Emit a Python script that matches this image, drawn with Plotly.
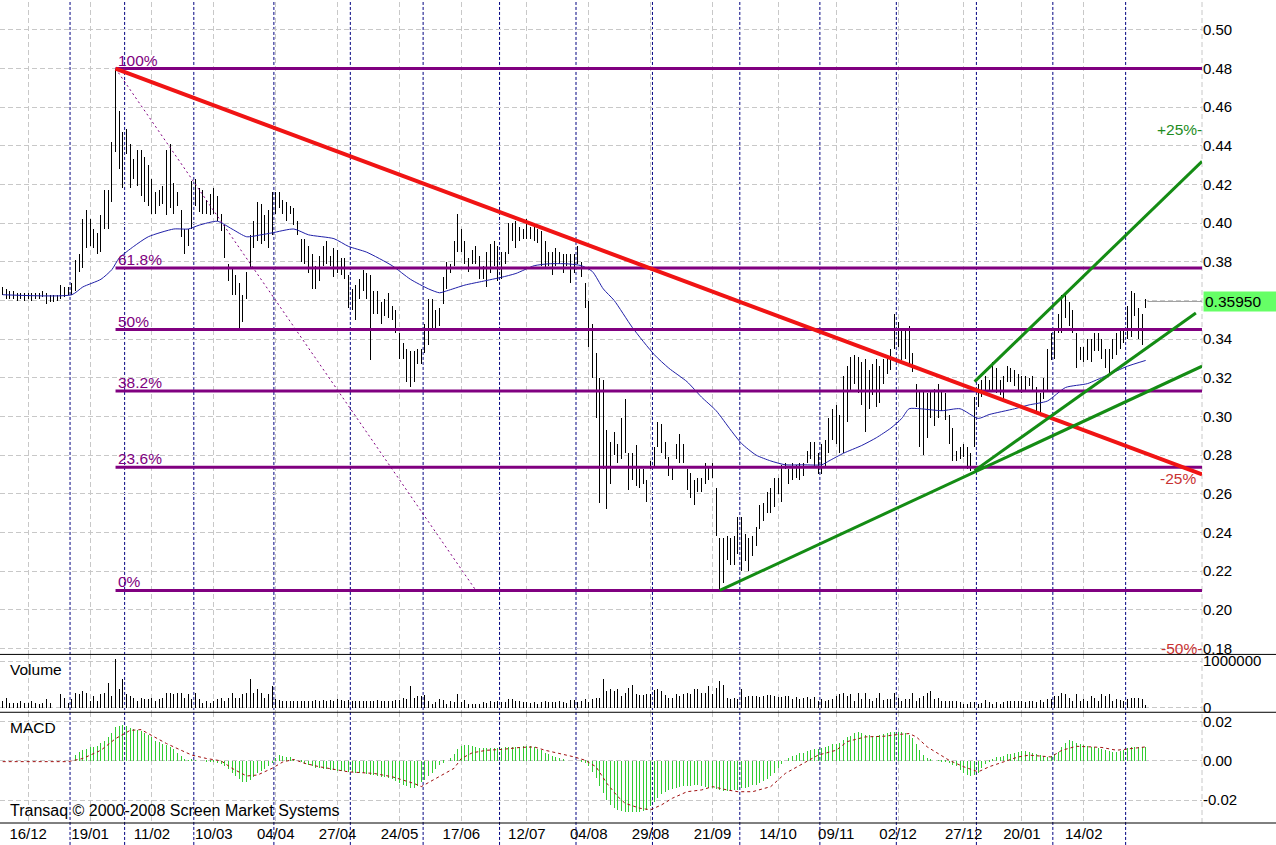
import plotly.graph_objects as go

# ---------------- DATA ----------------
high = [
 .367,.366,.365,.365,.364,.364,.364,.364,.364,.364,
 .364,.365,.364,.363,.363,.363,.368,.367,.367,.369,
 .381,.384,.402,.407,.402,.397,.395,.404,.417,.417,
 .442,.480,.458,.447,.449,.441,.433,.438,.438,.434,
 .430,.423,.416,.417,.419,.438,.441,.421,.416,.407,
 .397,.397,.422,.423,.418,.417,.412,.415,.418,.414,
 .405,.399,.379,.377,.373,.369,.363,.375,.394,.401,
 .411,.410,.404,.407,.416,.416,.416,.412,.411,.409,
 .408,.401,.392,.392,.388,.384,.378,.383,.388,.391,
 .383,.387,.386,.382,.382,.373,.366,.368,.371,.376,
 .374,.373,.365,.365,.359,.361,.364,.357,.355,.343,
 .338,.335,.334,.334,.335,.335,.348,.361,.361,.355,
 .356,.372,.380,.379,.391,.405,.397,.391,.382,.386,
 .388,.383,.378,.385,.389,.391,.388,.385,.385,.400,
 .400,.401,.398,.397,.402,.398,.398,.397,.396,.391,
 .385,.385,.387,.385,.384,.384,.384,.384,.388,.380,
 .369,.360,.348,.333,.320,.319,.293,.287,.292,.286,
 .299,.309,.281,.281,.285,.273,.273,.267,.277,.284,
 .297,.296,.287,.279,.274,.286,.291,.286,.273,.271,
 .267,.268,.268,.276,.274,.276,.263,.237,.237,.238,
 .237,.238,.248,.248,.239,.237,.238,.243,.254,.255,
 .261,.263,.268,.268,.275,.276,.273,.276,.275,.276,
 .276,.282,.287,.287,.281,.286,.288,.299,.304,.306,
 .301,.321,.326,.331,.332,.331,.328,.330,.324,.327,
 .330,.326,.330,.332,.335,.353,.349,.345,.344,.347,
 .333,.317,.313,.313,.312,.313,.314,.317,.313,.312,
 .301,.294,.282,.284,.286,.284,.281,.310,.317,.319,
 .321,.319,.328,.325,.319,.321,.326,.325,.324,.322,
 .321,.321,.320,.321,.315,.312,.320,.335,.343,.345,
 .353,.363,.363,.359,.355,.343,.336,.336,.340,.340,
 .343,.343,.340,.335,.335,.340,.343,.345,.346,.357,
 .365,.364,.356,.353,.361]

low = [
 .363,.361,.361,.361,.360,.361,.360,.361,.360,.361,
 .361,.362,.358,.359,.359,.360,.361,.362,.363,.363,
 .365,.375,.377,.387,.388,.387,.384,.385,.397,.397,
 .411,.437,.428,.418,.436,.418,.423,.419,.414,.411,
 .409,.405,.405,.409,.410,.404,.408,.405,.409,.393,
 .384,.388,.397,.409,.406,.405,.405,.404,.405,.401,
 .396,.382,.370,.363,.363,.346,.349,.361,.377,.387,
 .391,.389,.391,.387,.394,.405,.408,.405,.401,.405,
 .399,.394,.380,.379,.374,.366,.366,.370,.378,.379,
 .378,.372,.374,.373,.371,.356,.355,.350,.361,.365,
 .361,.329,.353,.353,.348,.352,.351,.350,.343,.330,
 .330,.318,.315,.318,.327,.327,.333,.337,.344,.344,
 .347,.358,.366,.374,.378,.385,.385,.379,.375,.379,
 .379,.371,.371,.367,.374,.378,.370,.371,.379,.384,
 .391,.387,.391,.392,.392,.392,.391,.390,.378,.377,
 .378,.373,.378,.379,.374,.378,.369,.374,.379,.372,
 .356,.336,.320,.299,.255,.273,.252,.265,.280,.276,
 .278,.281,.262,.267,.264,.263,.265,.256,.273,.274,
 .284,.281,.278,.269,.267,.278,.276,.276,.262,.258,
 .254,.261,.261,.265,.267,.268,.238,.211,.214,.226,
 .223,.223,.229,.220,.225,.220,.228,.233,.242,.246,
 .250,.250,.253,.260,.256,.273,.265,.267,.268,.267,
 .269,.276,.278,.274,.270,.270,.274,.281,.288,.286,
 .281,.281,.297,.313,.317,.312,.306,.292,.304,.311,
 .305,.307,.317,.322,.324,.335,.336,.329,.330,.327,
 .323,.305,.284,.280,.289,.299,.295,.299,.303,.298,
 .286,.277,.277,.278,.279,.273,.272,.284,.305,.310,
 .311,.313,.313,.312,.311,.309,.318,.318,.316,.313,
 .312,.313,.316,.313,.303,.302,.309,.313,.329,.330,
 .343,.343,.351,.347,.343,.325,.329,.328,.329,.328,
 .334,.334,.330,.325,.322,.330,.332,.335,.338,.340,
 .341,.352,.340,.337,.356]

volume_k = [
 150,213,107,107,107,142,107,107,142,107,
 71,107,192,107,0,0,284,213,107,192,
 320,284,355,320,142,249,142,284,320,533,
 249,1030,390,604,284,249,213,142,213,178,
 178,213,142,178,213,305,305,284,320,320,
 213,284,178,320,178,107,142,107,142,178,
 213,142,213,320,213,213,284,320,604,320,
 390,320,213,284,462,178,156,142,142,140,
 142,142,142,142,135,142,160,142,160,142,
 160,142,178,160,142,160,142,142,142,142,
 142,150,150,160,142,142,142,142,160,156,
 213,178,462,213,250,
 250,260,140,70,110,180,160,70,140,120,
 300,110,160,70,70,85,85,110,90,130,
 110,140,120,110,180,190,140,140,120,110,
 90,110,85,110,135,120,110,120,130,110,
 90,165,165,110,140,180,120,180,210,210,
 600,355,390,355,390,250,320,425,475,285,
 260,260,285,285,375,390,355,260,210,210,
 285,250,285,320,300,390,390,320,320,460,
 285,410,570,475,210,190,210,190,405,235,
 250,250,250,235,250,260,260,250,235,235,
 250,250,180,235,180,210,235,180,235,140,
 180,140,160,190,250,285,320,250,
 285,140,320,180,320,180,140,210,320,160,
 180,180,320,210,140,180,180,320,140,210,
 250,320,355,180,210,140,140,140,140,140,
 110,70,70,110,110,70,90,160,110,70,
 110,70,110,140,140,140,140,140,110,140,
 140,120,160,120,180,180,250,250,320,285,
 210,140,285,140,180,140,250,210,140,285,
 250,285,140,190,160,140,180,210,210,210,
 190,50]

macd_hist = [0]*20 + [
 .0030,.0046,.0054,.0061,.0068,.0071,.0074,.0088,.0100,.0118,
 .0139,.0169,.0176,.0179,.0176,.0167,.0160,.0155,.0149,.0139,
 .0129,.0118,.0101,.0094,.0086,.0078,.0071,.0058,.0040,.0024,
 .0009,.0002,.0003,.0002,0,0,-.0003,-.0005,-.0009,-.0013,
 -.0017,-.0027,-.0044,-.0064,-.0077,-.0094,-.0111,-.0111,-.0098,-.0081,
 -.0064,-.0054,-.0044,-.0027,-.0011,.0012,.0027,.0024,.0020,.0019,
 .0010,0,-.0007,-.0015,-.0024,-.0030,-.0037,-.0038,-.0044,-.0044,
 -.0047,-.0047,-.0051,-.0051,-.0054,-.0056,-.0059,-.0064,-.0064,-.0064,
 -.0067,-.0072,-.0072,-.0077,-.0082,-.0086,-.0091,-.0096,-.0104,-.0113,
 -.0123,-.0131,-.0140,-.0140,-.0131,-.0111,-.0098,-.0077,-.0061,-.0044,
 -.0024,-.0010,0,.0014,.0032,.0058,.0073,.0078,.0078,.0074,
 .0071,.0064,.0063,.0063,.0064,.0064,.0066,.0066,.0068,.0068,
 .0069,.0069,.0071,.0074,.0074,.0074,.0069,.0061,.0052,.0041,
 .0032,.0022,.0017,.0012,.0003,0,0,0,0,-.0003,
 -.0010,-.0030,-.0057,-.0091,-.0128,-.0165,-.0201,-.0224,-.0241,-.0253,
 -.0258,-.0261,-.0263,-.0263,-.0263,-.0260,-.0258,-.0249,-.0233,-.0212,
 -.0192,-.0169,-.0158,-.0148,-.0145,-.0140,-.0135,-.0131,-.0131,-.0128,
 -.0126,-.0126,-.0128,-.0133,-.0138,-.0140,-.0145,-.0148,-.0153,-.0157,
 -.0157,-.0152,-.0148,-.0140,-.0138,-.0133,-.0126,-.0123,-.0116,-.0106,
 -.0094,-.0077,-.0061,-.0040,-.0017,0,.0015,.0022,.0029,.0037,
 .0041,.0047,.0056,.0059,.0059,.0063,.0069,.0074,.0083,.0084,
 .0091,.0105,.0122,.0125,.0142,.0145,.0139,.0132,.0130,.0127,
 .0125,.0130,.0135,.0139,.0144,.0147,.0147,.0145,.0140,.0132,
 .0116,.0083,.0054,.0029,.0012,.0003,0,-.0002,-.0003,-.0005,
 -.0012,-.0020,-.0030,-.0047,-.0064,-.0072,-.0079,-.0074,-.0061,-.0038,
 -.0019,-.0003,.0010,.0017,.0020,.0024,.0031,.0034,.0039,.0042,
 .0049,.0047,.0042,.0037,.0034,.0029,.0024,.0020,.0025,.0032,
 .0046,.0071,.0091,.0105,.0101,.0091,.0084,.0079,.0074,.0071,
 .0068,.0063,.0061,.0056,.0051,.0046,.0046,.0051,.0056,.0064,
 .0069,.0071,.0071,.0068,.0068]

signal_idx = [0,18,22,27,31,35,38,40,45,49,52,56,60,63,67,70,72,74,77,80,83,87,95,102,107,113,
              115,119,124,126,129,133,137,142,146,149,153,157,160,163,166,169,171,175,178,181,184,188,
              192,195,199,202,206,211,215,220,224,229,232,237,242,246,249,251,254,257,260,264,268,271,
              275,279,282,288,291,295,299,302,306,310,314]
signal_val = [-.0004,-.0004,.0012,.0054,.0113,.0155,.0159,.0139,.0088,.0054,.0029,.0012,0,-.0038,-.0077,
              -.0072,-.0056,-.0038,-.0005,.0007,-.0013,-.0030,-.0056,-.0064,-.0081,-.0115,
              -.0131,-.0089,-.0038,.0012,.0041,.0054,.0058,.0068,.0071,.0054,.0037,.0020,.0003,-.0030,
              -.0115,-.0182,-.0216,-.0241,-.0249,-.0224,-.0190,-.0157,-.0148,-.0131,-.0148,-.0157,-.0157,
              -.0131,-.0064,-.0013,.0029,.0054,.0098,.0122,.0125,.0134,.0139,.0122,.0071,.0037,.0003,
              -.0030,-.0056,-.0030,-.0005,.0020,.0029,.0020,.0054,.0074,.0071,.0068,.0054,.0063,.0071]

ma_idx = [0,19,22,27,30,32,36,40,47,51,54,59,63,67,71,74,80,84,91,95,100,107,112,117,120,122,127,
          132,137,141,146,150,155,159,162,165,168,173,179,183,188,192,196,200,203,207,211,215,220,
          225,227,231,236,240,244,247,249,252,258,263,268,271,278,282,287,292,298,303,309,314]
ma_val = [.363,.363,.367,.371,.376,.382,.388,.393,.397,.397,.399,.401,.397,.393,.394,.395,.397,.394,
          .392,.388,.385,.378,.371,.366,.364,.365,.368,.370,.372,.374,.378,.379,.379,.378,.375,.366,
          .360,.346,.332,.325,.318,.310,.303,.293,.286,.280,.277,.275,.275,.275,.277,.281,.285,.289,
          .294,.299,.304,.304,.303,.304,.299,.301,.304,.306,.308,.315,.317,.321,.326,.329]

date_idx = [7, 24, 41, 58, 75, 92, 109, 126, 144, 161, 178, 195, 213, 229, 246, 264, 280, 297]
date_lbl = ["16/12", "19/01", "11/02", "10/03", "04/04", "27/04", "24/05", "17/06", "12/07",
            "04/08", "29/08", "21/09", "14/10", "09/11", "02/12", "27/12", "20/01", "14/02"]
month_first_idx = [19, 34, 53, 75, 96, 116, 137, 158, 179, 203, 225, 246, 268, 289, 309]

fib_high, fib_low = 0.48, 0.21
fib_pct = [100, 61.8, 50, 38.2, 23.6, 0]
fib_start_idx = 31
fib_diag_end_idx = 130

red_line_idx, red_line_val = [31, 329.5], [0.480, 0.270]
green_lines = [([197, 329.5], [0.210, 0.326]),
               ([267, 327.8], [0.272, 0.3535]),
               ([267, 329.5], [0.318, 0.432])]
last_close = 0.3595

price_ticks = [0.18, 0.20, 0.22, 0.24, 0.26, 0.28, 0.30, 0.32, 0.34, 0.36, 0.38, 0.40,
               0.42, 0.44, 0.46, 0.48, 0.50]
vol_ticks = [0, 1000000]
macd_ticks = [-0.02, 0.0, 0.02]

# ---------------- GEOMETRY / STYLE ----------------
W, H = 1276, 845
PLOT_W, PLOT_H = 1202, 823
X0_PX, DX_PX = 2.7, 3.64
x_lo = -X0_PX / DX_PX
x_hi = (PLOT_W - X0_PX) / DX_PX
price_dom = [169 / PLOT_H, 1.0]
vol_dom = [111 / PLOT_H, 169 / PLOT_H]
macd_dom = [0.0, 111 / PLOT_H]
price_rng = [0.17690, 0.51445]
vol_rng = [-91500, 1142600]
macd_rng = [-0.03162, 0.02472]
BAR_W = 0.01

FONT = "Liberation Sans, Arial, sans-serif"
GRID = "#c8c8c8"
GDASH = "5px,3px"
PURPLE = "#800080"
RED = "#f01414"
GREEN = "#148c14"

fig = go.Figure()

n = len(high)
idx = list(range(n))

# price bars (high-low)
fig.add_trace(go.Bar(x=idx, y=[h - l for h, l in zip(high, low)], base=low, width=BAR_W,
                     marker=dict(color="black", line=dict(width=0)), hoverinfo="skip",
                     xaxis="x", yaxis="y"))
# moving average
fig.add_trace(go.Scatter(x=ma_idx, y=ma_val, mode="lines",
                         line=dict(color="#2020a8", width=1, shape="spline", smoothing=0.6),
                         hoverinfo="skip", xaxis="x", yaxis="y"))
# fib diagonal
fig.add_trace(go.Scatter(x=[fib_start_idx, fib_diag_end_idx], y=[fib_high, fib_low], mode="lines",
                         line=dict(color=PURPLE, width=1, dash="2px,3px"), hoverinfo="skip",
                         xaxis="x", yaxis="y"))
# fib levels
for p in fib_pct:
    lvl = fib_low + (fib_high - fib_low) * p / 100.0
    fig.add_trace(go.Scatter(x=[fib_start_idx, x_hi], y=[lvl, lvl], mode="lines",
                             line=dict(color=PURPLE, width=3), hoverinfo="skip", xaxis="x", yaxis="y"))
    fig.add_annotation(x=fib_start_idx, y=lvl, xref="x", yref="y", text=f"{p:g}%", showarrow=False,
                       xanchor="left", yanchor="bottom", yshift=-2,
                       font=dict(color=PURPLE, size=15.5, family=FONT))
# red trend line
fig.add_trace(go.Scatter(x=red_line_idx, y=red_line_val, mode="lines", line=dict(color=RED, width=4),
                         hoverinfo="skip", xaxis="x", yaxis="y"))
# green trend lines
for gx, gy in green_lines:
    fig.add_trace(go.Scatter(x=gx, y=gy, mode="lines", line=dict(color=GREEN, width=3),
                             hoverinfo="skip", xaxis="x", yaxis="y"))

# volume
fig.add_trace(go.Bar(x=idx, y=[v * 1000 for v in volume_k], width=BAR_W,
                     marker=dict(color="black", line=dict(width=0)), hoverinfo="skip",
                     xaxis="x", yaxis="y2"))

# MACD histogram + signal
fig.add_trace(go.Bar(x=idx, y=macd_hist, width=BAR_W,
                     marker=dict(color="#33cc33", line=dict(width=0)), hoverinfo="skip",
                     xaxis="x", yaxis="y3"))
fig.add_trace(go.Scatter(x=signal_idx, y=signal_val, mode="lines",
                         line=dict(color="#a01010", width=1, dash="3px,3px"),
                         hoverinfo="skip", xaxis="x", yaxis="y3"))

# last price guide
fig.add_shape(type="line", xref="x", yref="y", x0=n - 0.5, x1=x_hi, y0=last_close, y1=last_close,
              line=dict(color="#a0a0a0", width=1), layer="above")

# month separators
for m in month_first_idx:
    fig.add_shape(type="line", xref="x", yref="paper", x0=m - 0.5, x1=m - 0.5, y0=-22 / PLOT_H, y1=1,
                  line=dict(color="#000080", width=1, dash="3px,2px"), layer="between")
# right border grid line
fig.add_shape(type="line", xref="paper", yref="paper", x0=1, x1=1, y0=0, y1=1,
              line=dict(color=GRID, width=1, dash=GDASH), layer="between")
# panel separators
for yy in [price_dom[0], vol_dom[0], 0.0]:
    fig.add_shape(type="line", xref="paper", yref="paper", x0=0, x1=W / PLOT_W, y0=yy, y1=yy,
                  line=dict(color="black", width=1), layer="above")

# texts
def txt(x, y, s, color="black", xanchor="left", xref="paper", yref="paper", size=15.5, xshift=0, yshift=0):
    fig.add_annotation(x=x, y=y, xref=xref, yref=yref, text=s, showarrow=False, xanchor=xanchor,
                       yanchor="middle", xshift=xshift, yshift=yshift,
                       font=dict(color=color, size=size, family=FONT))

txt(8 / PLOT_W, (PLOT_H - 669) / PLOT_H, "Volume")
txt(8 / PLOT_W, (PLOT_H - 727.5) / PLOT_H, "MACD")
txt(8 / PLOT_W, (PLOT_H - 810) / PLOT_H, "Transaq © 2000-2008 Screen Market Systems", size=16)
txt(1, 0.4486, "+25%-", color="#1e8c1e", xanchor="right", yref="y", xshift=2)
txt(1, 0.2681, "-25%", color="#c83232", xanchor="right", yref="y", xshift=-4)
txt(1, 0.1800, "-50%-", color="#c83232", xanchor="right", yref="y", xshift=2)

fig.add_annotation(x=1, y=last_close, xref="paper", yref="y", text="0.35950", showarrow=False,
                   xanchor="left", yanchor="middle", xshift=1, align="left", width=70, height=17,
                   bgcolor="#66ff66", borderpad=1, font=dict(color="black", size=15.5, family=FONT))

axis_common = dict(showline=False, zeroline=False, showgrid=True, gridcolor=GRID, griddash=GDASH,
                   gridwidth=1, side="right", anchor="x", ticks="",
                   tickfont=dict(size=15, family=FONT, color="black"))

fig.update_layout(
    width=W, height=H, margin=dict(l=0, r=W - PLOT_W, t=0, b=H - PLOT_H),
    paper_bgcolor="white", plot_bgcolor="white", showlegend=False,
    barmode="overlay", bargap=0, bargroupgap=0,
    font=dict(family=FONT, size=15, color="black"),
    xaxis=dict(range=[x_lo, x_hi], anchor="y3", tickmode="array", tickvals=date_idx, ticktext=date_lbl,
               showgrid=True, gridcolor=GRID, griddash=GDASH, gridwidth=1, zeroline=False, showline=False,
               ticks="", tickfont=dict(size=15, family=FONT, color="black")),
    yaxis=dict(domain=price_dom, range=price_rng, tickmode="array", tickvals=price_ticks,
               ticktext=["" if abs(v - 0.36) < 1e-9 else f"{v:.2f}" for v in price_ticks], **axis_common),
    yaxis2=dict(domain=vol_dom, range=vol_rng, tickmode="array", tickvals=vol_ticks,
                ticktext=[str(v) for v in vol_ticks], **axis_common),
    yaxis3=dict(domain=macd_dom, range=macd_rng, tickmode="array", tickvals=macd_ticks,
                ticktext=[f"{v:.2f}" for v in macd_ticks], **axis_common),
)

fig.write_html("out.html", config={"displayModeBar": False})
